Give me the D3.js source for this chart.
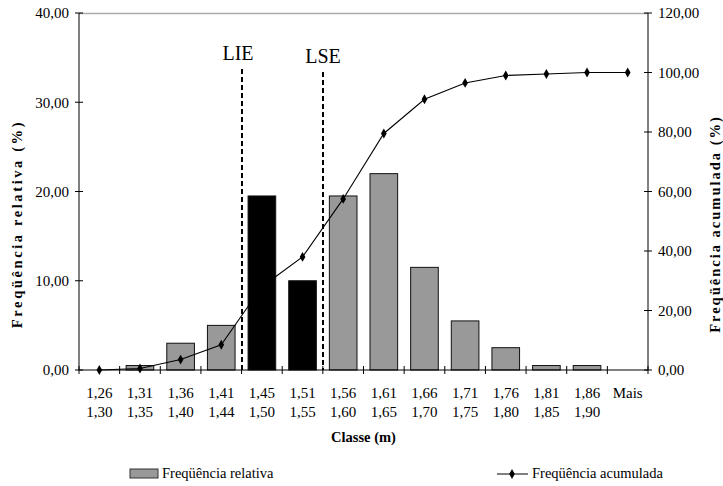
<!DOCTYPE html>
<html>
<head>
<meta charset="utf-8">
<script src="https://cdn.jsdelivr.net/npm/d3@7/dist/d3.min.js"></script>
<style>
  html, body { margin: 0; padding: 0; background: #fff; }
  svg { display: block; font-family: "Liberation Serif", "Times New Roman", serif; }
</style>
</head>
<body>
<svg id="chart" width="723" height="486"></svg>
<script>
// Height classes (two-line labels: lower / upper bound)
const classLow  = ["1,26","1,31","1,36","1,41","1,45","1,51","1,56","1,61","1,66","1,71","1,76","1,81","1,86","Mais"];
const classHigh = ["1,30","1,35","1,40","1,44","1,50","1,55","1,60","1,65","1,70","1,75","1,80","1,85","1,90",""];
// Relative frequency (%) per class
const relFreq = [0, 0.5, 3.0, 5.0, 19.5, 10.0, 19.5, 22.0, 11.5, 5.5, 2.5, 0.5, 0.5, 0];
// Cumulative frequency (%) per class
const cumFreq = [0, 0.5, 3.5, 8.5, 28.0, 38.0, 57.5, 79.5, 91.0, 96.5, 99.0, 99.5, 100, 100];
// Classes lying inside the specification limits
const withinSpec = ["1,45", "1,51"];
// Specification limits, drawn at the left edge of the given class
const specLimits = [{ label: "LIE", before: "1,45" }, { label: "LSE", before: "1,56" }];
// Axis ticks
const leftTicks = [0, 10, 20, 30, 40];
const rightTicks = [0, 20, 40, 60, 80, 100, 120];

const fmt = v => d3.format(".2f")(v).replace(".", ",");

const svg = d3.select("#chart");
const margin = { left: 79, right: 75, top: 13, bottom: 116 };
const W = 723, H = 486;
const x0 = margin.left, x1 = W - margin.right, y0 = H - margin.bottom, y1 = margin.top;

const x = d3.scaleBand().domain(classLow).range([x0, x1]).paddingInner(0.32).paddingOuter(0.16);
const yL = d3.scaleLinear().domain([0, 40]).range([y0, y1]);
const yR = d3.scaleLinear().domain([0, 120]).range([y0, y1]);
const step = x.step();
const edge = c => x(c) - step * 0.16;

// frame top line
svg.append("line").attr("x1", x0).attr("x2", x1).attr("y1", y1 + 0.5).attr("y2", y1 + 0.5)
  .attr("stroke", "#aaa").attr("stroke-width", 1.5);

// bars
svg.append("g").selectAll("rect").data(classLow).join("rect")
  .attr("x", d => x(d))
  .attr("y", (d, i) => yL(relFreq[i]))
  .attr("width", x.bandwidth())
  .attr("height", (d, i) => y0 - yL(relFreq[i]))
  .attr("fill", d => withinSpec.includes(d) ? "#000" : "#999")
  .attr("stroke", "#111").attr("stroke-width", 1);

// cumulative line
const pts = classLow.map((c, i) => [x(c) + x.bandwidth() / 2, yR(cumFreq[i])]);
svg.append("path").attr("d", d3.line()(pts)).attr("fill", "none").attr("stroke", "#000").attr("stroke-width", 1.1);
svg.append("g").selectAll("path").data(pts).join("path")
  .attr("transform", d => `translate(${d[0]},${d[1]})`)
  .attr("d", d3.symbol(d3.symbolDiamond, 28)).attr("fill", "#000");

// specification limits
const lim = svg.append("g");
specLimits.forEach((s, k) => {
  const xx = Math.round(edge(s.before));
  const top = k === 0 ? 69 : 72;
  lim.append("line").attr("x1", xx).attr("x2", xx).attr("y1", top).attr("y2", y0)
    .attr("stroke", "#000").attr("stroke-width", 2).attr("stroke-dasharray", "5,3");
  lim.append("text").attr("x", xx - 4 + k * 4).attr("y", top - 9).attr("text-anchor", "middle")
    .attr("font-size", 20).text(s.label);
});

// left axis
const gl = svg.append("g").attr("transform", `translate(${x0},0)`);
gl.append("line").attr("y1", y1).attr("y2", y0).attr("stroke", "#000");
gl.selectAll("line.t").data(leftTicks).join("line").attr("class", "t")
  .attr("x1", -4).attr("x2", 4).attr("y1", d => yL(d)).attr("y2", d => yL(d)).attr("stroke", "#000");
gl.selectAll("text").data(leftTicks).join("text")
  .attr("x", -10).attr("y", d => yL(d)).attr("dy", "0.35em").attr("text-anchor", "end")
  .attr("font-size", 15).text(fmt);

// right axis
const gr = svg.append("g").attr("transform", `translate(${x1},0)`);
gr.append("line").attr("y1", y1).attr("y2", y0).attr("stroke", "#000");
gr.selectAll("line.t").data(rightTicks).join("line").attr("class", "t")
  .attr("x1", -4).attr("x2", 4).attr("y1", d => yR(d)).attr("y2", d => yR(d)).attr("stroke", "#000");
gr.selectAll("text").data(rightTicks).join("text")
  .attr("x", 10).attr("y", d => yR(d)).attr("dy", "0.35em").attr("text-anchor", "start")
  .attr("font-size", 15).text(fmt);

// bottom axis
const gb = svg.append("g");
gb.append("line").attr("x1", x0).attr("x2", x1).attr("y1", y0).attr("y2", y0).attr("stroke", "#000");
const bounds = classLow.map(edge).concat([x1]);
gb.selectAll("line.t").data(bounds).join("line").attr("class", "t")
  .attr("x1", d => d).attr("x2", d => d).attr("y1", y0 - 4).attr("y2", y0 + 4).attr("stroke", "#000");
gb.selectAll("text.a").data(classLow).join("text").attr("class", "a")
  .attr("x", d => x(d) + x.bandwidth() / 2).attr("y", 398).attr("text-anchor", "middle")
  .attr("font-size", 15).text(d => d);
gb.selectAll("text.b").data(classHigh).join("text").attr("class", "b")
  .attr("x", (d, i) => x(classLow[i]) + x.bandwidth() / 2).attr("y", 417).attr("text-anchor", "middle")
  .attr("font-size", 15).text(d => d);

// axis titles
svg.append("text").attr("x", (x0 + x1) / 2).attr("y", 442).attr("text-anchor", "middle")
  .attr("font-size", 14.5).attr("font-weight", "bold").text("Classe (m)");
svg.append("text").attr("transform", "translate(22,224) rotate(-90)")
  .attr("text-anchor", "middle").attr("font-size", 14.5).attr("font-weight", "bold")
  .attr("letter-spacing", 2.6)
  .text("Freqüência relativa (%)");
svg.append("text").attr("transform", "translate(720,224) rotate(-90)")
  .attr("text-anchor", "middle").attr("font-size", 14.5).attr("font-weight", "bold")
  .attr("letter-spacing", 2)
  .text("Freqüência acumulada (%)");

// legend
const lg = svg.append("g");
lg.append("rect").attr("x", 130).attr("y", 469).attr("width", 28).attr("height", 9)
  .attr("fill", "#999").attr("stroke", "#333");
lg.append("text").attr("x", 162).attr("y", 478).attr("font-size", 14.5).text("Freqüência relativa");
lg.append("line").attr("x1", 497).attr("x2", 528).attr("y1", 474).attr("y2", 474).attr("stroke", "#000");
lg.append("path").attr("transform", "translate(512,474)").attr("d", d3.symbol(d3.symbolDiamond, 28)).attr("fill", "#000");
lg.append("text").attr("x", 532).attr("y", 478).attr("font-size", 14.5).text("Freqüência acumulada");
</script>
</body>
</html>
